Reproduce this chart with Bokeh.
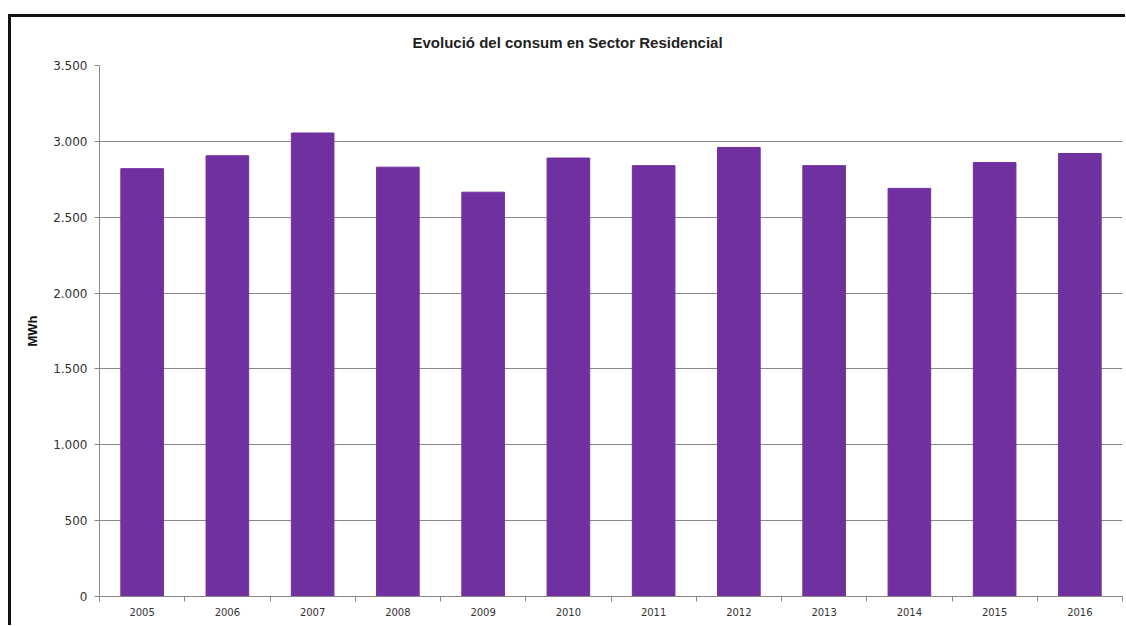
from bokeh.plotting import figure
from bokeh.models import Range1d, FixedTicker
from bokeh.embed import file_html
from bokeh.resources import INLINE

years = [2005, 2006, 2007, 2008, 2009, 2010, 2011, 2012, 2013, 2014, 2015, 2016]
consum = [2820, 2905, 3055, 2830, 2665, 2890, 2840, 2960, 2840, 2690, 2860, 2920]
y_ticks = [0, 500, 1000, 1500, 2000, 2500, 3000, 3500]
y_tick_labels = ["0", "500", "1.000", "1.500", "2.000", "2.500", "3.000", "3.500"]
title_text = "Evolució del consum  en Sector Residencial"
y_label = "MWh"

BAR = "#7030A0"
GRID = "#888888"

p = figure(width=1117, height=611, output_backend="svg", toolbar_location=None,
           x_range=Range1d(years[0] - 0.5, years[-1] + 0.5), y_range=Range1d(0, 3500),
           min_border_left=88, min_border_right=6, min_border_top=48, min_border_bottom=32)
p.styles = {"border-left": "3px solid #111111", "border-top": "3px solid #111111",
            "margin-top": "14px", "margin-left": "8px"}

p.vbar(x=years, top=consum, width=0.5, fill_color=BAR, line_color=BAR)

p.title.text = title_text
p.title.align = "left"
p.title.offset = 313
p.title.vertical_align = "top"
p.title.standoff = 25
p.title.text_font = "Liberation Sans"
p.title.text_font_size = "15px"
p.title.text_font_style = "bold"
p.title.text_color = "#222222"

p.outline_line_color = None
p.xgrid.grid_line_color = None
p.ygrid.grid_line_color = GRID
p.ygrid.grid_line_width = 1

yax = p.yaxis[0]
yax.ticker = FixedTicker(ticks=y_ticks)
yax.major_label_overrides = {t: l for t, l in zip(y_ticks, y_tick_labels)}
yax.axis_line_color = GRID
yax.major_tick_line_color = GRID
yax.major_tick_out = 5
yax.major_tick_in = 0
yax.minor_tick_line_color = None
yax.major_label_text_font = "DejaVu Sans"
yax.major_label_text_font_size = "12px"
yax.major_label_text_color = "#333333"
yax.major_label_standoff = 7
yax.axis_label = y_label
yax.axis_label_text_font = "Liberation Sans"
yax.axis_label_text_font_size = "13px"
yax.axis_label_text_font_style = "bold"
yax.axis_label_text_color = "#111111"
yax.axis_label_standoff = 10

xax = p.xaxis[0]
xax.ticker = FixedTicker(ticks=years, minor_ticks=[y - 0.5 for y in years] + [years[-1] + 0.5])
xax.axis_line_color = GRID
xax.major_tick_line_color = None
xax.major_tick_out = 0
xax.major_tick_in = 0
xax.minor_tick_line_color = GRID
xax.minor_tick_out = 5
xax.minor_tick_in = 0
xax.major_label_text_font = "DejaVu Sans"
xax.major_label_text_font_size = "10px"
xax.major_label_text_color = "#333333"
xax.major_label_standoff = 6

open("out.html", "w").write(file_html(p, INLINE))
